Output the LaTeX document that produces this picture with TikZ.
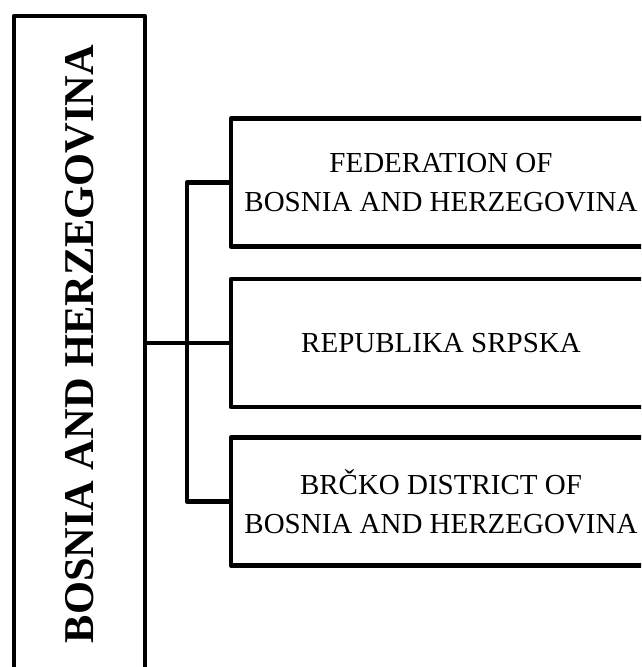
\documentclass[tikz,border=0pt]{standalone}
\usepackage{fontspec}
\setmainfont{Liberation Serif}
\usepackage{tikz}
\usetikzlibrary{positioning}

\begin{document}
\begin{tikzpicture}[
    x=1pt, y=-1pt,
    line width=4.8pt, line join=round,
    mainbox/.style={draw, minimum width=131pt, minimum height=656pt, inner sep=0pt},
    unitbox/.style={draw, minimum width=420pt, minimum height=128pt, align=center,
        inner sep=0pt, font=\fontsize{29}{39}\selectfont}
]
\useasboundingbox (0,0) rectangle (641,667);
\clip (0,0) rectangle (641,667);
\node[mainbox] (bih) at (79.5,344) {\rotatebox{90}{\fontsize{42.4}{48}\selectfont\bfseries BOSNIA AND HERZEGOVINA}};
\node[unitbox] (fbih) at (441,182.5) {FEDERATION OF\\BOSNIA AND HERZEGOVINA};
\node[unitbox] (rs) at (441,343) {REPUBLIKA SRPSKA};
\node[unitbox] (brcko) at (441,501.5) {BRČKO DISTRICT OF\\BOSNIA AND HERZEGOVINA};
\coordinate (spine) at (187,343);
\draw (bih.east |- spine) -- (rs.west);
\draw (fbih.west) -| (spine) |- (brcko.west);
\end{tikzpicture}
\end{document}
